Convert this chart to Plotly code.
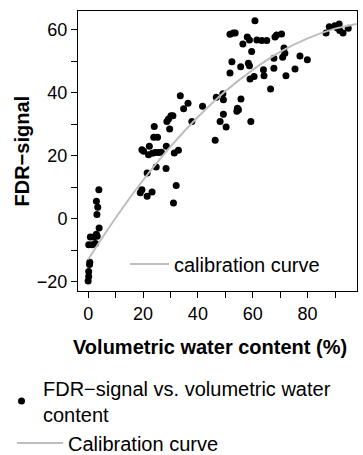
import plotly.graph_objects as go

# FDR-signal vs. volumetric water content
vwc = [0.0, 0.2, 0.2, 0.5, 0.6, 0.2, 1.5, 2.7, 0.8, 2.0, 3.3, 3.0, 4.0, 3.2, 3.5, 3.0, 3.9,
       19.0, 19.6, 21.5, 23.3, 21.5, 24.8, 28.4, 31.1, 32.1,
       19.6, 20.2, 22.3, 22.0, 23.4, 24.5, 25.6, 26.7, 28.5, 31.4, 32.9,
       24.1, 23.9, 25.3, 28.7, 29.3, 30.2, 30.9, 29.7,
       33.6, 34.8, 36.4, 37.8, 41.7,
       46.3, 46.7, 48.1, 49.3, 49.3, 50.3, 49.1,
       51.7, 52.4, 51.7, 52.9, 53.6,
       54.2, 54.4, 54.8, 55.7, 55.6, 56.4, 58.0, 58.8,
       58.4, 58.8, 59.0, 59.6, 59.3, 60.5, 60.8, 61.5, 63.3, 65.1,
       63.9, 64.1, 66.5, 67.7, 68.1, 68.7, 70.5, 67.7, 70.9, 71.4, 71.7, 72.1, 75.4, 77.2, 79.9,
       86.7, 87.9, 89.9, 91.5, 91.7, 92.9, 94.8, 90.8]
fdr = [-19.8, -18.4, -16.8, -14.6, -13.9, -8.3, -8.3, -7.9, -5.8, -5.8, -5.6, -5.0, -3.0, 1.3, 3.6, 5.5, 9.2,
       8.2, 9.2, 7.1, 8.5, 14.5, 16.4, 15.9, 5.0, 10.5,
       21.9, 21.4, 23.0, 20.3, 20.8, 21.0, 21.0, 21.1, 23.0, 20.9, 21.7,
       29.3, 25.9, 25.9, 30.9, 31.7, 32.7, 32.7, 28.5,
       39.1, 34.9, 36.7, 30.9, 35.7,
       24.9, 38.6, 30.9, 37.8, 33.2, 29.1, 39.7,
       46.3, 49.9, 58.6, 59.0, 59.0,
       34.1, 35.1, 34.6, 38.0, 48.3, 55.5, 57.7, 56.8,
       49.4, 48.6, 44.4, 53.1, 30.9, 45.2, 62.9, 56.8, 56.6, 56.6,
       47.3, 45.4, 41.2, 47.8, 57.7, 58.4, 58.7, 51.0, 51.3, 54.2, 52.6, 45.4, 47.6, 51.7, 50.5,
       59.0, 61.0, 61.3, 61.9, 59.8, 59.0, 60.5, 60.6]

# calibration curve
cal_x = [0, 10, 20, 30, 40, 50, 60, 70, 80, 90, 98]
cal_y = [-13.0, 0.2, 12.2, 22.9, 32.3, 40.5, 47.3, 53.0, 57.3, 60.4, 61.9]

x_ticks = [0, 10, 20, 30, 40, 50, 60, 70, 80, 90]
x_labels = ["0", "", "20", "", "40", "", "60", "", "80", ""]
y_ticks = [-20, -10, 0, 10, 20, 30, 40, 50, 60]
y_labels = ["\u221220", "", "0", "", "20", "", "40", "", "60"]

FONT = "Liberation Sans, Arial, sans-serif"
GREY = "#bdbdbd"

fig = go.Figure()
fig.add_trace(go.Scatter(
    x=vwc, y=fdr, mode="markers",
    marker=dict(color="black", size=7),
    name="FDR\u2212signal vs. volumetric water<br>content",
    legend="legend", showlegend=True))
fig.add_trace(go.Scatter(
    x=cal_x, y=cal_y, mode="lines", line=dict(color=GREY, width=2, shape="spline"),
    name="calibration curve", legend="legend3", showlegend=True))
fig.add_trace(go.Scatter(
    x=[None], y=[None], mode="lines", line=dict(color=GREY, width=2),
    name="Calibration curve", legend="legend2", showlegend=True))

axis_common = dict(showline=True, linecolor="black", linewidth=1, mirror=True,
                   ticks="outside", ticklen=6, tickcolor="black", tickwidth=1,
                   showgrid=False, zeroline=False,
                   tickfont=dict(family=FONT, size=18, color="black"))

leg_font = dict(family=FONT, size=20, color="black")

fig.update_layout(
    width=363, height=455,
    margin=dict(l=78, r=6, t=11, b=164, autoexpand=False),
    paper_bgcolor="white", plot_bgcolor="white",
    font=dict(family=FONT, color="black"),
    showlegend=True,
    xaxis=dict(range=[-3.7, 98], tickmode="array", tickvals=x_ticks, ticktext=x_labels,
               **axis_common),
    yaxis=dict(range=[-23, 66], tickmode="array", tickvals=y_ticks, ticktext=y_labels,
               **axis_common),
    legend=dict(xref="container", yref="container", x=0.0, y=1 - 401 / 455,
                xanchor="left", yanchor="middle", bgcolor="rgba(0,0,0,0)",
                itemwidth=33, font=leg_font),
    legend2=dict(xref="container", yref="container", x=12 / 363, y=1 - 443 / 455,
                 xanchor="left", yanchor="middle", bgcolor="rgba(0,0,0,0)",
                 itemwidth=46, font=leg_font),
    legend3=dict(xref="container", yref="container", x=125 / 363, y=1 - 264 / 455,
                 xanchor="left", yanchor="middle", bgcolor="rgba(0,0,0,0)",
                 itemwidth=39, font=leg_font),
    annotations=[
        dict(text="<b>Volumetric water content (%)</b>", xref="paper", yref="paper",
             x=(210 - 78) / 279, y=(291 - 346.7) / 280, xanchor="center", yanchor="middle",
             showarrow=False, font=dict(family=FONT, size=20, color="black")),
        dict(text="<b>FDR\u2212signal</b>", xref="paper", yref="paper",
             x=(21.5 - 78) / 279, y=0.5, xanchor="center", yanchor="middle",
             textangle=-90, showarrow=False, font=dict(family=FONT, size=20, color="black")),
    ],
)

fig.write_html("out.html")
